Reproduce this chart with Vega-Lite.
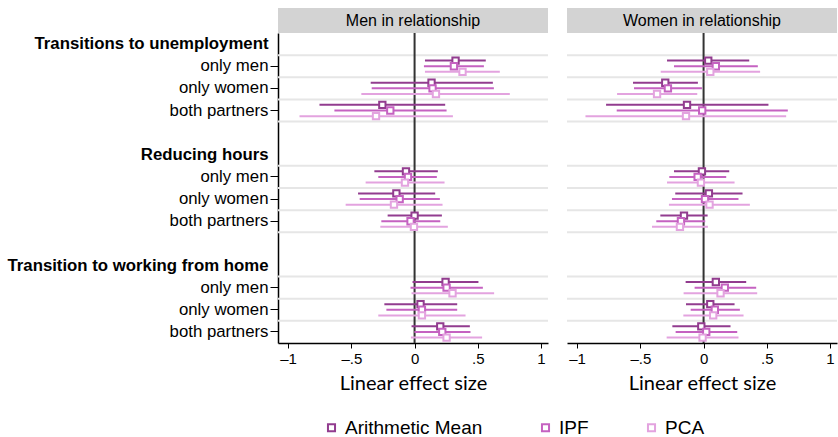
{
  "$schema": "https://vega.github.io/schema/vega-lite/v6.json",
  "padding": {"left": 6, "top": 8, "right": 0, "bottom": 0},
  "background": "white",
  "datasets": {
    "grid": [{"r": "m1"}, {"r": "w1"}, {"r": "b1"}, {"r": "g1"}, {"r": "m2"}, {"r": "w2"}, {"r": "b2"}, {"r": "g2"}, {"r": "m3"}, {"r": "w3"}, {"r": "b3"}],
    "est": [
      {"p": "Men", "r": "m1", "m": "Arithmetic Mean", "e": 0.324, "lo": 0.082, "hi": 0.563},
      {"p": "Men", "r": "m1", "m": "IPF", "e": 0.311, "lo": 0.074, "hi": 0.548},
      {"p": "Men", "r": "m1", "m": "PCA", "e": 0.379, "lo": 0.082, "hi": 0.674},
      {"p": "Men", "r": "w1", "m": "Arithmetic Mean", "e": 0.134, "lo": -0.347, "hi": 0.619},
      {"p": "Men", "r": "w1", "m": "IPF", "e": 0.142, "lo": -0.339, "hi": 0.627},
      {"p": "Men", "r": "w1", "m": "PCA", "e": 0.169, "lo": -0.421, "hi": 0.753},
      {"p": "Men", "r": "b1", "m": "Arithmetic Mean", "e": -0.255, "lo": -0.752, "hi": 0.242},
      {"p": "Men", "r": "b1", "m": "IPF", "e": -0.192, "lo": -0.634, "hi": 0.253},
      {"p": "Men", "r": "b1", "m": "PCA", "e": -0.305, "lo": -0.910, "hi": 0.303},
      {"p": "Men", "r": "m2", "m": "Arithmetic Mean", "e": -0.068, "lo": -0.318, "hi": 0.184},
      {"p": "Men", "r": "m2", "m": "IPF", "e": -0.052, "lo": -0.287, "hi": 0.176},
      {"p": "Men", "r": "m2", "m": "PCA", "e": -0.076, "lo": -0.387, "hi": 0.237},
      {"p": "Men", "r": "w2", "m": "Arithmetic Mean", "e": -0.144, "lo": -0.447, "hi": 0.163},
      {"p": "Men", "r": "w2", "m": "IPF", "e": -0.118, "lo": -0.434, "hi": 0.200},
      {"p": "Men", "r": "w2", "m": "PCA", "e": -0.163, "lo": -0.545, "hi": 0.221},
      {"p": "Men", "r": "b2", "m": "Arithmetic Mean", "e": 0.000, "lo": -0.213, "hi": 0.216},
      {"p": "Men", "r": "b2", "m": "IPF", "e": -0.032, "lo": -0.263, "hi": 0.203},
      {"p": "Men", "r": "b2", "m": "PCA", "e": -0.005, "lo": -0.271, "hi": 0.263},
      {"p": "Men", "r": "m3", "m": "Arithmetic Mean", "e": 0.245, "lo": -0.016, "hi": 0.505},
      {"p": "Men", "r": "m3", "m": "IPF", "e": 0.253, "lo": -0.032, "hi": 0.540},
      {"p": "Men", "r": "m3", "m": "PCA", "e": 0.300, "lo": -0.024, "hi": 0.629},
      {"p": "Men", "r": "w3", "m": "Arithmetic Mean", "e": 0.047, "lo": -0.239, "hi": 0.337},
      {"p": "Men", "r": "w3", "m": "IPF", "e": 0.058, "lo": -0.223, "hi": 0.337},
      {"p": "Men", "r": "w3", "m": "PCA", "e": 0.058, "lo": -0.287, "hi": 0.403},
      {"p": "Men", "r": "b3", "m": "Arithmetic Mean", "e": 0.203, "lo": -0.024, "hi": 0.437},
      {"p": "Men", "r": "b3", "m": "IPF", "e": 0.219, "lo": -0.002, "hi": 0.442},
      {"p": "Men", "r": "b3", "m": "PCA", "e": 0.253, "lo": -0.029, "hi": 0.534},
      {"p": "Women", "r": "m1", "m": "Arithmetic Mean", "e": 0.037, "lo": -0.289, "hi": 0.361},
      {"p": "Women", "r": "m1", "m": "IPF", "e": 0.097, "lo": -0.234, "hi": 0.429},
      {"p": "Women", "r": "m1", "m": "PCA", "e": 0.053, "lo": -0.339, "hi": 0.447},
      {"p": "Women", "r": "w1", "m": "Arithmetic Mean", "e": -0.303, "lo": -0.558, "hi": -0.045},
      {"p": "Women", "r": "w1", "m": "IPF", "e": -0.282, "lo": -0.550, "hi": -0.013},
      {"p": "Women", "r": "w1", "m": "PCA", "e": -0.368, "lo": -0.684, "hi": -0.050},
      {"p": "Women", "r": "b1", "m": "Arithmetic Mean", "e": -0.131, "lo": -0.771, "hi": 0.513},
      {"p": "Women", "r": "b1", "m": "IPF", "e": -0.011, "lo": -0.687, "hi": 0.666},
      {"p": "Women", "r": "b1", "m": "PCA", "e": -0.139, "lo": -0.934, "hi": 0.653},
      {"p": "Women", "r": "m2", "m": "Arithmetic Mean", "e": -0.013, "lo": -0.234, "hi": 0.203},
      {"p": "Women", "r": "m2", "m": "IPF", "e": -0.047, "lo": -0.271, "hi": 0.179},
      {"p": "Women", "r": "m2", "m": "PCA", "e": -0.021, "lo": -0.289, "hi": 0.245},
      {"p": "Women", "r": "w2", "m": "Arithmetic Mean", "e": 0.042, "lo": -0.224, "hi": 0.308},
      {"p": "Women", "r": "w2", "m": "IPF", "e": 0.011, "lo": -0.250, "hi": 0.276},
      {"p": "Women", "r": "w2", "m": "PCA", "e": 0.047, "lo": -0.274, "hi": 0.366},
      {"p": "Women", "r": "b2", "m": "Arithmetic Mean", "e": -0.155, "lo": -0.342, "hi": 0.032},
      {"p": "Women", "r": "b2", "m": "IPF", "e": -0.179, "lo": -0.374, "hi": 0.013},
      {"p": "Women", "r": "b2", "m": "PCA", "e": -0.187, "lo": -0.408, "hi": 0.034},
      {"p": "Women", "r": "m3", "m": "Arithmetic Mean", "e": 0.097, "lo": -0.142, "hi": 0.337},
      {"p": "Women", "r": "m3", "m": "IPF", "e": 0.168, "lo": -0.071, "hi": 0.416},
      {"p": "Women", "r": "m3", "m": "PCA", "e": 0.134, "lo": -0.158, "hi": 0.424},
      {"p": "Women", "r": "w3", "m": "Arithmetic Mean", "e": 0.053, "lo": -0.139, "hi": 0.245},
      {"p": "Women", "r": "w3", "m": "IPF", "e": 0.089, "lo": -0.102, "hi": 0.287},
      {"p": "Women", "r": "w3", "m": "PCA", "e": 0.076, "lo": -0.160, "hi": 0.316},
      {"p": "Women", "r": "b3", "m": "Arithmetic Mean", "e": -0.018, "lo": -0.247, "hi": 0.213},
      {"p": "Women", "r": "b3", "m": "IPF", "e": 0.021, "lo": -0.221, "hi": 0.266},
      {"p": "Women", "r": "b3", "m": "PCA", "e": -0.008, "lo": -0.292, "hi": 0.276}
    ]
  },
  "hconcat": [
    {
      "bounds": "flush",
      "spacing": 0,
      "vconcat": [
        {
          "width": 270,
          "height": 25,
          "data": {"values": [{"t": "Men in relationship"}]},
          "view": {"fill": "#d3d3d3", "stroke": null},
          "mark": {"type": "text", "font": "Liberation Sans", "fontSize": 16, "color": "black"},
          "encoding": {"text": {"field": "t"}}
        },
        {
          "width": 270,
          "height": 310,
          "layer": [
            {
              "data": {"name": "grid"},
              "mark": {"type": "rule", "color": "#e6e6e6", "strokeWidth": 2},
              "encoding": {
                "y": {"field": "r", "type": "nominal", "bandPosition": 0,
                  "scale": {"type": "band", "domain": ["h1", "m1", "w1", "b1", "g1", "h2", "m2", "w2", "b2", "g2", "h3", "m3", "w3", "b3"], "paddingInner": 0, "paddingOuter": 0},
                  "axis": {
                    "title": null,
                    "grid": false,
                    "labelExpr": "datum.value=='h1'?'Transitions to unemployment':datum.value=='h2'?'Reducing hours':datum.value=='h3'?'Transition to working from home':test(/^g/,datum.value)?'':test(/^m/,datum.value)?'only men':test(/^w/,datum.value)?'only women':'both partners'",
                    "labelFontWeight": {"condition": {"test": "test(/^h/, datum.value)", "value": "bold"}, "value": "normal"},
                    "tickOpacity": {"condition": {"test": "test(/^[mwb]/, datum.value)", "value": 1}, "value": 0},
                    "labelFont": "Liberation Sans",
                    "labelFontSize": 16.8,
                    "labelColor": "black",
                    "labelLimit": 400,
                    "labelPadding": 2,
                    "tickSize": 8,
                    "tickColor": "black",
                    "tickWidth": 1,
                    "domainColor": "black",
                    "domainWidth": 1.5
                  }
                }
              }
            },
            {
              "data": {"values": [{"z": 0}]},
              "mark": {"type": "rule", "color": "#333333", "strokeWidth": 2},
              "encoding": {"x": {"field": "z", "type": "quantitative",
                "scale": {"domain": [-1.08, 1.055], "nice": false, "zero": false},
                "axis": {"title": "Linear effect size", "values": [-1, -0.5, 0, 0.5, 1]}}}
            },
            {
              "data": {"name": "est"},
              "transform": [{"filter": "datum.p == 'Men'"}],
              "mark": {"type": "rule", "strokeWidth": 2},
              "encoding": {
                "y": {"field": "r", "type": "nominal"},
                "yOffset": {"field": "m", "type": "nominal", "scale": {"type": "band", "domain": ["Arithmetic Mean", "IPF", "PCA"], "paddingInner": 0, "paddingOuter": 0.465}},
                "x": {"field": "lo", "type": "quantitative", "axis": {"title": "Linear effect size", "values": [-1, -0.5, 0, 0.5, 1]}},
                "x2": {"field": "hi"},
                "color": {"field": "m", "type": "nominal"}
              }
            },
            {
              "data": {"name": "est"},
              "transform": [{"filter": "datum.p == 'Men'"}],
              "mark": {"type": "point", "shape": "square", "filled": false, "fill": "white", "fillOpacity": 1, "opacity": 1, "size": 40, "strokeWidth": 2},
              "encoding": {
                "y": {"field": "r", "type": "nominal"},
                "yOffset": {"field": "m", "type": "nominal"},
                "x": {"field": "e", "type": "quantitative", "axis": {"title": "Linear effect size", "values": [-1, -0.5, 0, 0.5, 1]}},
                "color": {"field": "m", "type": "nominal"}
              }
            }
          ]
        }
      ]
    },
    {
      "bounds": "flush",
      "spacing": 0,
      "vconcat": [
        {
          "width": 270,
          "height": 25,
          "data": {"values": [{"t": "Women in relationship"}]},
          "view": {"fill": "#d3d3d3", "stroke": null},
          "mark": {"type": "text", "font": "Liberation Sans", "fontSize": 16, "color": "black"},
          "encoding": {"text": {"field": "t"}}
        },
        {
          "width": 270,
          "height": 310,
          "layer": [
            {
              "data": {"name": "grid"},
              "mark": {"type": "rule", "color": "#e6e6e6", "strokeWidth": 2},
              "encoding": {
                "y": {"field": "r", "type": "nominal", "bandPosition": 0,
                  "scale": {"type": "band", "domain": ["h1", "m1", "w1", "b1", "g1", "h2", "m2", "w2", "b2", "g2", "h3", "m3", "w3", "b3"], "paddingInner": 0, "paddingOuter": 0},
                  "axis": null
                }
              }
            },
            {
              "data": {"values": [{"z": 0}]},
              "mark": {"type": "rule", "color": "#333333", "strokeWidth": 2},
              "encoding": {"x": {"field": "z", "type": "quantitative",
                "scale": {"domain": [-1.08, 1.055], "nice": false, "zero": false},
                "axis": {"title": "Linear effect size", "values": [-1, -0.5, 0, 0.5, 1]}}}
            },
            {
              "data": {"name": "est"},
              "transform": [{"filter": "datum.p == 'Women'"}],
              "mark": {"type": "rule", "strokeWidth": 2},
              "encoding": {
                "y": {"field": "r", "type": "nominal", "axis": null},
                "yOffset": {"field": "m", "type": "nominal", "scale": {"type": "band", "domain": ["Arithmetic Mean", "IPF", "PCA"], "paddingInner": 0, "paddingOuter": 0.465}},
                "x": {"field": "lo", "type": "quantitative", "axis": {"title": "Linear effect size", "values": [-1, -0.5, 0, 0.5, 1]}},
                "x2": {"field": "hi"},
                "color": {"field": "m", "type": "nominal"}
              }
            },
            {
              "data": {"name": "est"},
              "transform": [{"filter": "datum.p == 'Women'"}],
              "mark": {"type": "point", "shape": "square", "filled": false, "fill": "white", "fillOpacity": 1, "opacity": 1, "size": 40, "strokeWidth": 2},
              "encoding": {
                "y": {"field": "r", "type": "nominal", "axis": null},
                "yOffset": {"field": "m", "type": "nominal"},
                "x": {"field": "e", "type": "quantitative", "axis": {"title": "Linear effect size", "values": [-1, -0.5, 0, 0.5, 1]}},
                "color": {"field": "m", "type": "nominal"}
              }
            }
          ]
        }
      ]
    }
  ],
  "spacing": 17,
  "resolve": {"scale": {"color": "shared"}, "legend": {"color": "shared"}},
  "config": {
    "view": {"stroke": null},
    "axisX": {
      "labelExpr": "datum.value==-1?'–1':datum.value==-0.5?'–.5':datum.value==0?'0':datum.value==0.5?'.5':'1'",
      "labelFont": "Liberation Sans",
      "labelFontSize": 15,
      "labelColor": "black",
      "labelPadding": 3,
      "tickSize": 5,
      "tickColor": "black",
      "domainColor": "black",
      "domainWidth": 1.5,
      "grid": false,
      "titleFont": "Lato",
      "titleFontSize": 20,
      "titleFontWeight": "normal",
      "titleColor": "black",
      "titlePadding": 7
    },
    "range": {"category": ["#923c8f", "#c562c1", "#e3a3df"]},
    "legend": {
      "orient": "none",
      "legendX": 44,
      "legendY": 410,
      "direction": "horizontal",
      "title": null,
      "symbolType": "square",
      "symbolSize": 50,
      "symbolStrokeWidth": 2,
      "symbolFillColor": "white",
      "labelFont": "Liberation Sans",
      "labelFontSize": 19,
      "labelColor": "black",
      "columnPadding": 53
    }
  }
}
